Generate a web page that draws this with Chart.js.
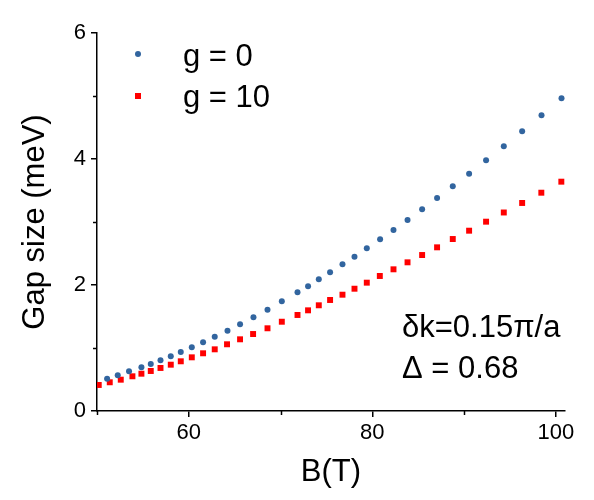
<!DOCTYPE html>
<html>
<head>
<meta charset="utf-8">
<script src="https://cdn.jsdelivr.net/npm/chart.js@4"></script>
<style>
    html, body { margin: 0; padding: 0; background: #fff; }
    #wrap { width: 594px; height: 500px; }
</style>
</head>
<body>
<div id="wrap"><canvas id="chart" width="594" height="500"></canvas></div>
<script>
// Data
const gZeroB = [51.10, 52.26, 53.49, 54.84, 55.86, 56.92, 58.04, 59.13, 60.33, 61.56, 62.83, 64.22,
    65.59, 67.05, 68.58, 70.14, 71.85, 73.00, 74.17, 75.40, 76.75, 78.06, 79.40, 80.85, 82.31,
    83.84, 85.43, 87.06, 88.77, 90.55, 92.40, 94.33, 96.33, 98.44, 100.62];
const gZeroGap = [0.513, 0.567, 0.630, 0.694, 0.746, 0.805, 0.868, 0.937, 1.011, 1.090, 1.179, 1.275,
    1.376, 1.487, 1.608, 1.741, 1.884, 1.979, 2.090, 2.202, 2.329, 2.449, 2.583, 2.725, 2.873,
    3.032, 3.202, 3.381, 3.567, 3.767, 3.979, 4.202, 4.440, 4.694, 4.963];
const gTenB = [50.19, 51.39, 52.59, 53.86, 54.84, 55.86, 56.92, 58.04, 59.13, 60.33, 61.56, 62.83,
    64.17, 65.59, 67.01, 68.58, 70.14, 71.85, 73.00, 74.17, 75.40, 76.75, 78.06, 79.40, 80.82,
    82.31, 83.84, 85.43, 87.06, 88.77, 90.55, 92.40, 94.33, 96.33, 98.42, 100.60];
const gTenGap = [0.413, 0.456, 0.497, 0.551, 0.592, 0.635, 0.683, 0.735, 0.789, 0.852, 0.916, 0.979,
    1.059, 1.138, 1.222, 1.313, 1.417, 1.524, 1.598, 1.678, 1.762, 1.846, 1.941, 2.037, 2.143,
    2.249, 2.360, 2.476, 2.598, 2.730, 2.862, 3.005, 3.151, 3.302, 3.465, 3.640];

const xTicks = [60, 80, 100];
const yTicks = [0, 2, 4, 6];
const xMinorTicks = [50, 70, 90];
const yMinorTicks = [1, 3, 5];

const seriesLabels = ['g = 0', 'g = 10'];
const noteLines = ['\u03B4k=0.15\u03C0/a', '\u0394 = 0.68'];

const blue = '#32659f';
const red = '#ff0000';
const fontFamily = 'Arial, "Liberation Sans", sans-serif';

function toPoints(xs, ys) {
    return xs.map((x, i) => ({ x: x, y: ys[i] }));
}

// Minor ticks, legend and the text note
const extras = {
    id: 'extras',
    afterDraw(chart) {
        const ctx = chart.ctx;
        const xs = chart.scales.x;
        const ys = chart.scales.y;
        const area = chart.chartArea;
        ctx.save();
        ctx.strokeStyle = '#000';
        ctx.lineWidth = 1.5;
        xMinorTicks.forEach(v => {
            const px = Math.round(xs.getPixelForValue(v)) + 0.5;
            ctx.beginPath();
            ctx.moveTo(px, area.bottom);
            ctx.lineTo(px, area.bottom + 4);
            ctx.stroke();
        });
        yMinorTicks.forEach(v => {
            const py = Math.round(ys.getPixelForValue(v)) + 0.5;
            ctx.beginPath();
            ctx.moveTo(area.left, py);
            ctx.lineTo(area.left - 4, py);
            ctx.stroke();
        });

        // legend
        const lx = area.left + 41;
        const tx = area.left + 86;
        const rows = [area.top + 21, area.top + 63];
        ctx.fillStyle = blue;
        ctx.beginPath();
        ctx.arc(lx, rows[0], 3, 0, Math.PI * 2);
        ctx.fill();
        ctx.fillStyle = red;
        ctx.fillRect(lx - 3, rows[1] - 3, 6, 6);
        ctx.fillStyle = '#000';
        ctx.font = '31px ' + fontFamily;
        ctx.textBaseline = 'alphabetic';
        ctx.textAlign = 'left';
        ctx.fillText(seriesLabels[0], tx, rows[0] + 12);
        ctx.fillText(seriesLabels[1], tx, rows[1] + 11);

        // note
        ctx.fillText(noteLines[0], 402, 337);
        ctx.fillText(noteLines[1], 402, 378);
        ctx.restore();
    }
};

const ctx = document.getElementById('chart').getContext('2d');
const chart = new Chart(ctx, {
    type: 'scatter',
    data: {
        datasets: [{
            label: seriesLabels[0],
            data: toPoints(gZeroB, gZeroGap),
            pointStyle: 'circle',
            pointRadius: 3,
            pointHoverRadius: 3,
            backgroundColor: blue,
            borderColor: blue,
            borderWidth: 0
        }, {
            label: seriesLabels[1],
            data: toPoints(gTenB, gTenGap),
            pointStyle: 'rect',
            pointRadius: 4.2,
            pointHoverRadius: 4.2,
            backgroundColor: red,
            borderColor: red,
            borderWidth: 0
        }]
    },
    options: {
        responsive: false,
        animation: false,
        layout: { padding: { left: 0, top: 33, right: 29, bottom: 0 } },
        plugins: {
            legend: { display: false },
            tooltip: { enabled: false }
        },
        scales: {
            x: {
                type: 'linear',
                min: 50,
                max: 101,
                afterBuildTicks: axis => { axis.ticks = xTicks.map(v => ({ value: v })); },
                afterFit: axis => { axis.height = 89; },
                border: { display: true, color: '#000', width: 1.5 },
                grid: { drawOnChartArea: false, drawTicks: true, tickLength: 6, color: '#000', lineWidth: 1.5 },
                ticks: { color: '#000', padding: 3, maxRotation: 0, font: { size: 22, family: fontFamily } },
                title: { display: true, text: 'B(T)', color: '#000', padding: { top: 0, bottom: 9 }, font: { size: 31, family: fontFamily } }
            },
            y: {
                type: 'linear',
                min: 0,
                max: 6,
                afterBuildTicks: axis => { axis.ticks = yTicks.map(v => ({ value: v })); },
                afterFit: axis => { axis.width = 97; },
                border: { display: true, color: '#000', width: 1.5 },
                grid: { drawOnChartArea: false, drawTicks: true, tickLength: 6, color: '#000', lineWidth: 1.5 },
                ticks: { color: '#000', padding: 5, font: { size: 22, family: fontFamily } },
                title: { display: true, text: 'Gap size (meV)', color: '#000', padding: { top: 17, bottom: 0 }, font: { size: 31, family: fontFamily } }
            }
        }
    },
    plugins: [extras]
});
</script>
</body>
</html>
